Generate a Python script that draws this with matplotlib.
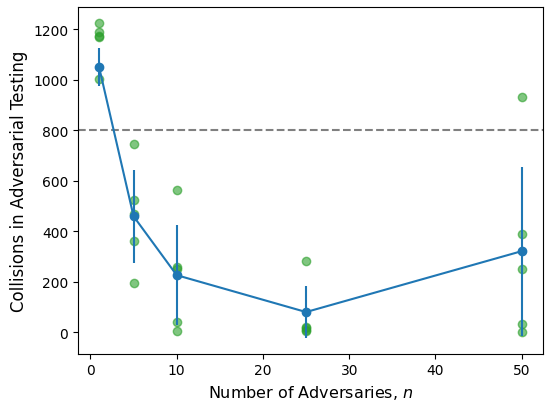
import numpy as np
import matplotlib
matplotlib.use('Agg')
import matplotlib.pyplot as plt

# adversary counts
n_adv = [1, 5, 10, 25, 50]

# per-run collisions (green points)
runs = {
    1: [1225, 1190, 1173, 1169, 1003],
    5: [747, 524, 469, 361, 193],
    10: [564, 258, 250, 39, 6],
    25: [283, 20, 15, 10, 5],
    50: [933, 389, 252, 33, 0],
}

# mean and spread (blue line)
mean_coll = [1050, 459, 226, 80, 321]
std_coll = [77, 183, 199, 102, 335]

threshold = 800

fig, ax = plt.subplots(figsize=(5.45, 4.02), dpi=100)
fig.subplots_adjust(left=0.143, right=0.996, top=0.98, bottom=0.118)

for n in n_adv:
    ax.scatter([n] * len(runs[n]), runs[n], color='tab:green', alpha=0.6, s=36, zorder=2)

ax.errorbar(n_adv, mean_coll, yerr=std_coll, marker='o', color='tab:blue', zorder=3)
ax.axhline(threshold, color='gray', linestyle='--')

ax.set_xlabel('Number of Adversaries, $n$', fontsize=11.5)
ax.set_ylabel('Collisions in Adversarial Testing', fontsize=12)

fig.savefig('out.png')
